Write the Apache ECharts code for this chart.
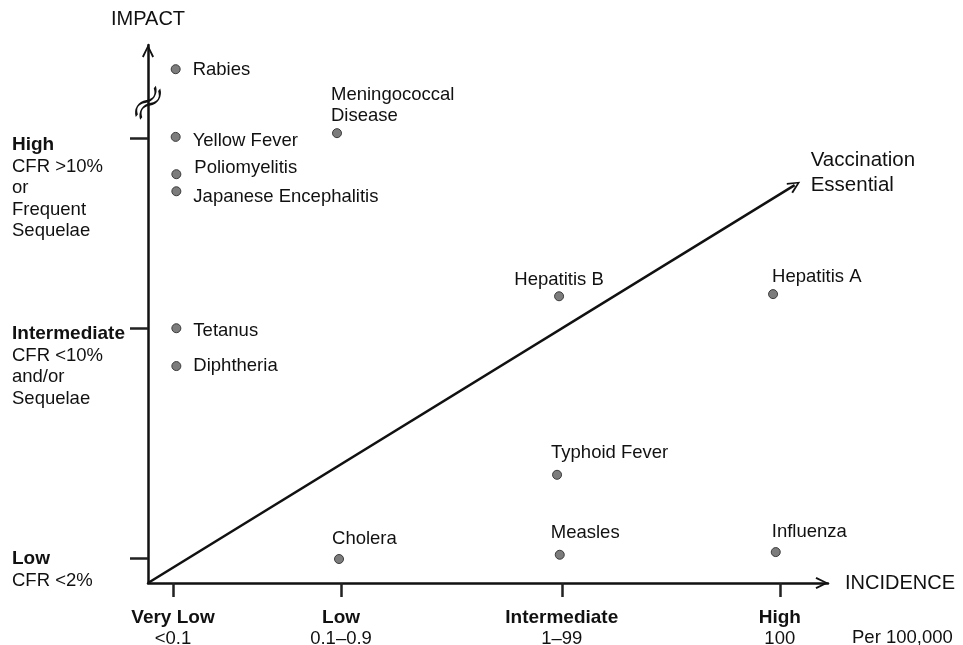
<!DOCTYPE html>
<html>
<head>
<meta charset="utf-8">
<script src="https://cdn.jsdelivr.net/npm/echarts@6/dist/echarts.min.js"></script>
<style>html,body{margin:0;padding:0;background:#fff;}#c{width:963px;height:645px;}</style>
</head>
<body>
<div id="c"></div>
<script>
// ---- data ----
var diseases = ['Rabies','Yellow Fever','Poliomyelitis','Japanese Encephalitis','Meningococcal\nDisease','Tetanus','Diphtheria','Hepatitis B','Hepatitis A','Typhoid Fever','Cholera','Measles','Influenza'];
var incidence = [4.1, 4.1, 4.2, 4.2, 28.0, 4.2, 4.2, 60.9, 92.6, 60.6, 28.3, 61.0, 93.0];
var impact    = [96.4, 83.7, 76.7, 73.5, 84.4, 47.8, 40.7, 53.8, 54.2, 20.3, 4.5, 5.3, 5.8];

var xTickValues = [3.7, 28.6, 61.3, 93.6];
var xTickNames  = ['Very Low','Low','Intermediate','High'];
var xTickRanges = ['<0.1','0.1\u20130.9','1\u201399','100'];

var yTickValues = [4.7, 47.8, 83.5];
var yTickNames  = ['Low','Intermediate','High'];
var yTickNotes  = [['CFR <2%'], ['CFR <10%','and/or','Sequelae'], ['CFR >10%','or','Frequent','Sequelae']];

var trendStart = [0, 0];
var trendEnd   = [95.8, 74.65];
var breakAt    = [0, 90.1];

// ---- styles ----
var FONT = 'Liberation Sans, Arial, sans-serif';
var TXT = '#111';
var yLabelShift = [1, 6, 7];
var labelStyle = {
  'Rabies': {position:'right', distance:12, offset:[0,1]},
  'Yellow Fever': {position:'right', distance:12, offset:[0,4]},
  'Poliomyelitis': {position:'right', distance:13, offset:[0,-6]},
  'Japanese Encephalitis': {position:'right', distance:12, offset:[0,6]},
  'Meningococcal\nDisease': {position:'top', align:'left', distance:2, offset:[-6,0]},
  'Tetanus': {position:'right', distance:12, offset:[0,3]},
  'Diphtheria': {position:'right', distance:12, offset:[0,0]},
  'Hepatitis B': {position:'top', distance:1, offset:[0,0]},
  'Hepatitis A': {position:'top', align:'left', distance:2, offset:[-1,0]},
  'Typhoid Fever': {position:'top', align:'left', distance:6, offset:[-6,0]},
  'Cholera': {position:'top', align:'left', distance:5, offset:[-7,0]},
  'Measles': {position:'top', align:'left', distance:6, offset:[-9,0]},
  'Influenza': {position:'top', align:'left', distance:5, offset:[-4,0]}
};

var chevron = 'path://M0,12 L6,0 L12,12 L10.3,12.9 L6,3.6 L1.7,12.9 Z';

function nearestIdx(arr, v) {
  var b = 0;
  for (var i = 1; i < arr.length; i++) if (Math.abs(arr[i] - v) < Math.abs(arr[b] - v)) b = i;
  return b;
}

var pts = diseases.map(function (n, i) {
  var ls = labelStyle[n] || {};
  return {
    name: n,
    value: [incidence[i], impact[i]],
    label: Object.assign({show: true, formatter: n, color: TXT, opacity: 1, fontSize: 18.5, fontFamily: FONT, lineHeight: 21}, ls)
  };
});

var chart = echarts.init(document.getElementById('c'), null, {renderer: 'canvas'});
chart.setOption({
  animation: false,
  backgroundColor: '#fff',
  title: {
    text: 'Per 100,000', left: 852, top: 628, padding: 0,
    textStyle: {fontSize: 18.5, fontWeight: 'normal', color: TXT, fontFamily: FONT}
  },
  grid: {left: 148, top: 45, width: 680, height: 538, containLabel: false, outerBoundsMode: 'none'},
  xAxis: {
    type: 'value', min: 0, max: 100.74,
    name: 'INCIDENCE', nameLocation: 'end', nameGap: 17,
    nameTextStyle: {fontSize: 20, color: TXT, fontFamily: FONT, verticalAlign: 'middle'},
    splitLine: {show: false},
    axisLine: {show: true, onZero: false, symbol: ['none', chevron], symbolSize: [12, 13], symbolOffset: [0, -6],
      lineStyle: {color: '#111', width: 2.5}},
    axisTick: {show: true, customValues: xTickValues, length: 14, lineStyle: {color: '#222', width: 2.5}},
    axisLabel: {
      show: true, customValues: xTickValues, margin: 24, color: TXT, fontFamily: FONT,
      formatter: function (v) { var i = nearestIdx(xTickValues, v); return '{b|' + xTickNames[i] + '}\n{n|' + xTickRanges[i] + '}'; },
      rich: {
        b: {fontSize: 19, fontWeight: 'bold', color: TXT, fontFamily: FONT, lineHeight: 21},
        n: {fontSize: 18.5, color: TXT, fontFamily: FONT, lineHeight: 21}
      }
    }
  },
  yAxis: {
    type: 'value', min: 0, max: 100.94,
    name: 'IMPACT', nameLocation: 'end', nameGap: 16,
    nameTextStyle: {fontSize: 20, color: TXT, fontFamily: FONT, align: 'center'},
    splitLine: {show: false},
    axisLine: {show: true, onZero: false, symbol: ['none', chevron], symbolSize: [12, 13], symbolOffset: [0, -6],
      lineStyle: {color: '#111', width: 2.5}},
    axisTick: {show: true, customValues: yTickValues, length: 18, lineStyle: {color: '#222', width: 2.5}},
    axisLabel: {
      show: true, customValues: yTickValues, margin: 136, align: 'left', verticalAlign: 'middle',
      color: TXT, fontFamily: FONT, lineHeight: 21.5,
      formatter: function (v) {
        var i = nearestIdx(yTickValues, v);
        var notes = yTickNotes[i];
        var s = '{s' + i + '| }\n';
        for (var k = 0; k < notes.length; k++) s += '{e| }\n';
        s += '{b|' + yTickNames[i] + '}';
        for (var k2 = 0; k2 < notes.length; k2++) s += '\n{n|' + notes[k2] + '}';
        return s;
      },
      rich: {
        s0: {fontSize: 1, lineHeight: 2 * yLabelShift[0]},
        s1: {fontSize: 1, lineHeight: 2 * yLabelShift[1]},
        s2: {fontSize: 1, lineHeight: 2 * yLabelShift[2]},
        e: {fontSize: 18.5, lineHeight: 21.5, fontFamily: FONT},
        b: {fontSize: 19, fontWeight: 'bold', color: TXT, fontFamily: FONT, lineHeight: 21.5},
        n: {fontSize: 18.5, color: TXT, fontFamily: FONT, lineHeight: 21.5}
      }
    }
  },
  series: [
    {
      type: 'scatter', name: 'diseases', symbol: 'circle', symbolSize: 9,
      itemStyle: {color: '#7c7c7c', borderColor: '#3c3c3c', borderWidth: 1, opacity: 1},
      data: pts,
      silent: true,
      markLine: {
        silent: true, animation: false,
        symbol: ['none', chevron], symbolSize: [12, 13],
        lineStyle: {color: '#111', width: 2.5, type: 'solid'},
        label: {show: false},
        data: [[{coord: trendStart}, {coord: trendEnd}]]
      }
    },
    {
      type: 'scatter', name: 'annotation', symbolSize: 0, silent: true,
      itemStyle: {opacity: 1},
      data: [{value: trendEnd, label: {show: true, formatter: 'Vaccination\nEssential', position: 'right', distance: 16, offset: [0, -12],
        color: TXT, opacity: 1, fontSize: 20.5, fontFamily: FONT, lineHeight: 25, align: 'left'}}]
    },
    {
      type: 'scatter', name: 'break', silent: true,
      symbol: 'path://M0,6 C4,-2 9,-2 13,6 C17,14 22,14 26,6 M0,13 C4,5 9,5 13,13 C17,21 22,21 26,13',
      symbolSize: [34, 14], symbolRotate: 58,
      itemStyle: {color: 'rgba(0,0,0,0)', borderColor: '#111', borderWidth: 2.2, opacity: 1},
      data: [breakAt]
    }
  ]
});
</script>
</body>
</html>
